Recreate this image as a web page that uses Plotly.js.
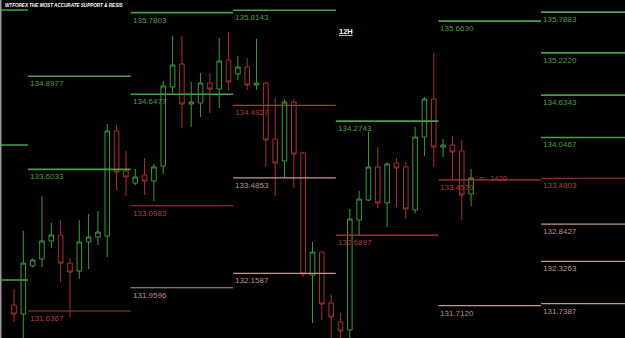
<!DOCTYPE html>
<html>
<head>
<meta charset="utf-8">
<script src="https://cdn.plot.ly/plotly-3.0.1.min.js"></script>
<style>html,body{margin:0;padding:0;background:#000;}#chart{width:625px;height:338px;}</style>
</head>
<body>
<div id="chart"></div>
<script>
// ---- candle data (bar index, open, high, low, close) ----
const barIndex = Array.from({length: 50}, (_, i) => i);
const openP  = [131.720,131.595,132.262,132.359,132.609,132.692,132.303,132.192,132.595,132.664,
                132.678,134.137,133.581,133.414,133.525,133.442,133.650,134.748,135.067,134.512,
                134.525,134.803,134.720,135.123,134.928,135.025,134.775,134.803,134.025,133.720,
                134.539,133.831,132.137,132.456,131.748,131.484,131.373,132.900,133.178,133.637,
                133.137,133.692,133.637,133.039,134.053,134.581,133.914,133.942,133.859,133.262];
const highP  = [131.942,132.748,132.370,133.234,132.859,132.900,132.373,132.900,132.984,133.025,
                134.234,134.220,133.859,133.609,133.762,133.678,134.831,135.456,135.456,134.817,
                134.942,134.942,135.428,135.512,135.178,135.150,135.414,134.820,134.595,134.581,
                134.581,133.845,132.595,132.460,131.873,131.609,133.053,133.303,134.123,133.914,
                133.706,133.762,133.706,134.192,134.609,135.220,134.025,134.067,134.012,133.609];
const lowP   = [131.484,131.220,132.240,132.248,132.512,132.039,131.553,132.081,132.220,132.553,
                132.387,133.317,133.234,133.387,133.248,133.164,133.539,134.664,134.178,134.192,
                134.331,134.387,134.456,134.706,134.845,134.706,134.706,133.637,133.234,133.484,
                133.345,132.109,131.470,131.512,131.220,131.220,131.220,132.678,133.164,133.067,
                132.803,133.081,132.914,132.998,133.789,133.637,133.775,133.456,132.900,133.095];
const closeP = [131.595,132.303,132.345,132.609,132.692,132.303,132.178,132.595,132.664,132.734,
                134.137,133.567,133.498,133.498,133.442,133.637,134.762,135.053,134.512,134.539,
                134.803,134.720,135.109,134.817,135.025,134.775,134.803,134.012,133.692,134.539,
                133.817,132.150,132.456,131.734,131.553,131.359,132.914,133.192,133.637,133.137,
                133.678,133.623,133.053,134.053,134.581,133.914,133.942,133.845,133.248,133.484];

// ---- support / resistance levels ----
const levelPrice  = [135.817,133.942,132.067,
                     134.8977,133.6033,131.6367,
                     135.7803,134.6477,133.0983,131.9596,
                     135.8143,134.4927,133.4853,132.1587,
                     134.2743,132.6897,
                     135.6630,133.4570,131.7120,
                     135.7883,135.2220,134.6343,134.0467,133.4803,132.8427,132.3263,131.7387];
const levelLabel  = ["","","",
                     "134.8977","133.6033","131.6367",
                     "135.7803","134.6477","133.0983","131.9596",
                     "135.8143","134.4927","133.4853","132.1587",
                     "134.2743","132.6897",
                     "135.6630","133.4570","131.7120",
                     "135.7883","135.2220","134.6343","134.0467","133.4803","132.8427","132.3263","131.7387"];
const levelColumn = [0,0,0, 1,1,1, 2,2,2,2, 3,3,3,3, 4,4, 5,5,5, 6,6,6,6,6,6,6,6];
const levelKind   = ["res","res","res",
                     "res","res","sup",
                     "res","res","sup","weak",
                     "res","sup","weak","weak",
                     "res","sup",
                     "res","sup","weak",
                     "res","res","res","res","sup","weak","weak","weak"];

const titleText = "WTFOREX THE MOST ACCURATE SUPPORT & RESIS";
const tfText = "12H";
const timerText = "\u21D0  1420";

// ---- styling / layout ----
const GREEN = "#3f963f", RED = "#a53232";
const kindColor = {res: "#4a9f4a", sup: "#b03834", weak: "#c4988e"};
const labelColor = {res: "#4f9c4f", sup: "#a8403a", weak: "#b8938a"};
const COL_ORIGIN = -9.5, COL_WIDTH = 11;

const shapes = [];
const annotations = [];
levelPrice.forEach((p, i) => {
  const x0 = COL_ORIGIN + COL_WIDTH * levelColumn[i];
  const c = kindColor[levelKind[i]];
  shapes.push({type: "line", xref: "x", yref: "y", x0: x0, x1: x0 + COL_WIDTH, y0: p, y1: p,
               line: {color: c, width: levelKind[i] === "res" ? 1.6 : 1.2}});
  if (levelLabel[i]) {
    annotations.push({xref: "x", yref: "y", x: x0, y: p, text: levelLabel[i], showarrow: false,
                      xanchor: "left", yanchor: "top", xshift: 0, yshift: -1,
                      font: {family: "Liberation Sans, Arial, sans-serif", size: 8, color: labelColor[levelKind[i]]}});
  }
});
// left edge border
shapes.push({type: "line", xref: "paper", yref: "paper", x0: 0.0012, x1: 0.0012, y0: 0, y1: 1,
             line: {color: "#9a9a9a", width: 1.5}});

annotations.push({xref: "paper", yref: "paper", x: 0.004, y: 0.998, xanchor: "left", yanchor: "top",
                  text: "<b><i>" + titleText + "</i></b>", showarrow: false,
                  font: {family: "Liberation Sans, Arial, sans-serif", size: 4.6, color: "#ffffff"}});
annotations.push({xref: "paper", yref: "paper", x: 0.539, y: 0.907, xanchor: "left", yanchor: "middle",
                  text: "<u><b>" + tfText + "</b></u>", showarrow: false,
                  font: {family: "Liberation Sans, Arial, sans-serif", size: 7.5, color: "#ffffff"}});
annotations.push({xref: "x", yref: "y", x: 49.6, y: closeP[49], xanchor: "left", yanchor: "middle",
                  text: timerText, showarrow: false,
                  font: {family: "Liberation Sans, Arial, sans-serif", size: 7.5, color: "#b03834"}});

const trace = {
  type: "candlestick", x: barIndex, open: openP, high: highP, low: lowP, close: closeP,
  increasing: {line: {color: GREEN, width: 1}, fillcolor: "rgba(0,0,0,0)"},
  decreasing: {line: {color: RED, width: 1}, fillcolor: "rgba(0,0,0,0)"},
  whiskerwidth: 0, hoverinfo: "skip", showlegend: false
};

const layout = {
  width: 625, height: 338,
  margin: {l: 0, r: 0, t: 0, b: 0},
  paper_bgcolor: "#000", plot_bgcolor: "#000",
  showlegend: false, hovermode: false,
  xaxis: {range: [-1.5, 65.5], visible: false, rangeslider: {visible: false}, fixedrange: true},
  yaxis: {range: [131.262, 135.956], visible: false, fixedrange: true},
  shapes: shapes, annotations: annotations
};

Plotly.newPlot("chart", [trace], layout, {staticPlot: true, displayModeBar: false});
</script>
</body>
</html>
